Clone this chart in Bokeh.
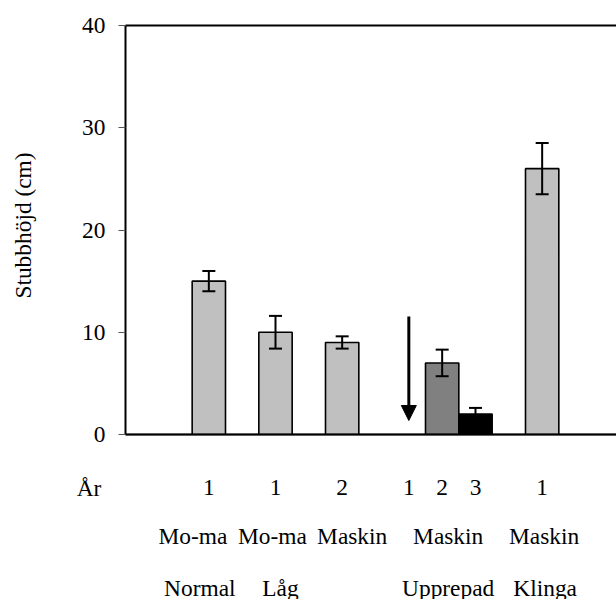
import math
from bokeh.plotting import figure
from bokeh.models import (ColumnDataSource, Range1d, Whisker, TeeHead,
                          Arrow, NormalHead, FixedTicker)
from bokeh.core.properties import value
from bokeh.embed import file_html
from bokeh.resources import INLINE

# ---------------- data ----------------
slots = list(range(1, 16))
heights = [0, 0, 15, 0, 10, 0, 9, 0, 0, 7, 2, 0, 26, 0, 0]
errors = [0, 0, 1.0, 0, 1.6, 0, 0.6, 0, 0, 1.3, 0.6, 0, 2.5, 0, 0]
year_labels = ["", "", "1", "", "1", "", "2", "", "1", "2", "3", "", "1", "", ""]
row_header = "År"
group_slots = [3, 5, 7, 10, 13]
group_line1 = ["Mo-ma", "Mo-ma", "Maskin", "Maskin", "Maskin"]
group_line2 = ["Normal", "Låg", "", "Upprepad", "Klinga"]
y_ticks = [0, 10, 20, 30, 40]
y_max = 40
y_title = "Stubbhöjd (cm)"
arrow_slot = 9
arrow_from = 11.54
arrow_to = 1.37

# ---------------- style / layout ----------------
FONT = value("Liberation Serif")
FS = "23.4px"
bar_colors = ["#C0C0C0"] * 15
bar_colors[9] = "#808080"
bar_colors[10] = "#000000"
off1 = [-16, -3, 10, 6, 2]
off2 = [-9, 5, 0, 6, 3]

W, H = 616, 599
axis_px = 125          # x pixel of the value axis
top_px, zero_px = 25, 434
slot_px = 33.333
ppu = (zero_px - top_px) / y_max
row1_px, row2_px, row3_px = 487, 535.3, 587

x0 = 0.5 - axis_px / slot_px
x1 = 0.5 + (W - axis_px) / slot_px
y1 = y_max + top_px / ppu
y0 = -(H - zero_px) / ppu

def ypx(py):
    return (zero_px - py) / ppu

def xpx(px):
    return 0.5 + (px - axis_px) / slot_px

p = figure(width=W, height=H,
           x_range=Range1d(x0, x1), y_range=Range1d(y0, y1),
           x_axis_type=None,
           output_backend="svg", toolbar_location=None,
           min_border=0)
p.grid.visible = False
p.outline_line_color = None
p.background_fill_color = "white"
p.border_fill_color = "white"

# y axis, drawn at the left edge of the bar area
ya = p.yaxis[0]
ya.fixed_location = 0.5
ya.ticker = FixedTicker(ticks=y_ticks)
ya.bounds = (0, y_max)
ya.axis_line_width = 2
ya.axis_line_color = "black"
ya.major_tick_out = 7
ya.major_tick_in = 0
ya.major_tick_line_color = "#555555"
ya.minor_tick_line_color = None
ya.major_label_standoff = 13
ya.major_label_text_font = "Liberation Serif"
ya.major_label_text_font_size = FS
ya.major_label_text_color = "black"

# bars
src = ColumnDataSource(dict(
    x=slots, top=heights, color=bar_colors, year=year_labels,
    yl=[ypx(row1_px)] * len(slots),
))
p.vbar(x="x", top="top", width=1.0, bottom=0, fill_color="color",
       line_color="black", line_width=1.6, source=src)

# error bars (drawn above the bars)
idx = [i for i, e in enumerate(errors) if e > 0]
esrc = ColumnDataSource(dict(
    x=[slots[i] for i in idx],
    upper=[heights[i] + errors[i] for i in idx],
    lower=[heights[i] - errors[i] for i in idx],
))
p.add_layout(Whisker(base="x", upper="upper", lower="lower", source=esrc,
                     level="annotation",
                     line_width=2, line_color="black",
                     upper_head=TeeHead(size=13, line_width=2, line_color="black"),
                     lower_head=TeeHead(size=13, line_width=2, line_color="black")))

# zero line and top line of the plot area
left_edge, right_edge = slots[0] - 0.5, slots[-1] + 0.5
p.segment(x0=[left_edge, left_edge], y0=[0, y_max],
          x1=[right_edge, right_edge], y1=[0, y_max],
          line_color="black", line_width=2)

# arrow
p.add_layout(Arrow(x_start=arrow_slot, y_start=arrow_from,
                   x_end=arrow_slot, y_end=arrow_to,
                   line_width=3, line_color="black",
                   end=NormalHead(size=15, fill_color="black", line_color="black")))

txt = dict(text_font=FONT, text_font_size=FS, text_color="black")

# year row
p.text(x="x", y="yl", text="year", source=src, text_align="center",
       text_baseline="alphabetic", **txt)
p.text(x=[xpx(88.5)], y=[ypx(row1_px)], text=[row_header], text_align="center",
       text_baseline="alphabetic", **txt)

# group rows
gsrc = ColumnDataSource(dict(
    x=group_slots, l1=group_line1, l2=group_line2, o1=off1, o2=off2,
    y1=[ypx(row2_px)] * len(group_slots), y2=[ypx(row3_px)] * len(group_slots),
))
p.text(x="x", y="y1", text="l1", x_offset="o1", source=gsrc,
       text_align="center", text_baseline="alphabetic", **txt)
p.text(x="x", y="y2", text="l2", x_offset="o2", source=gsrc,
       text_align="center", text_baseline="alphabetic", **txt)

# axis title
p.text(x=[xpx(22.5)], y=[ypx(225)], text=[y_title], angle=math.pi / 2,
       text_align="center", text_baseline="middle", **txt)

open("out.html", "w").write(file_html(p, INLINE))
